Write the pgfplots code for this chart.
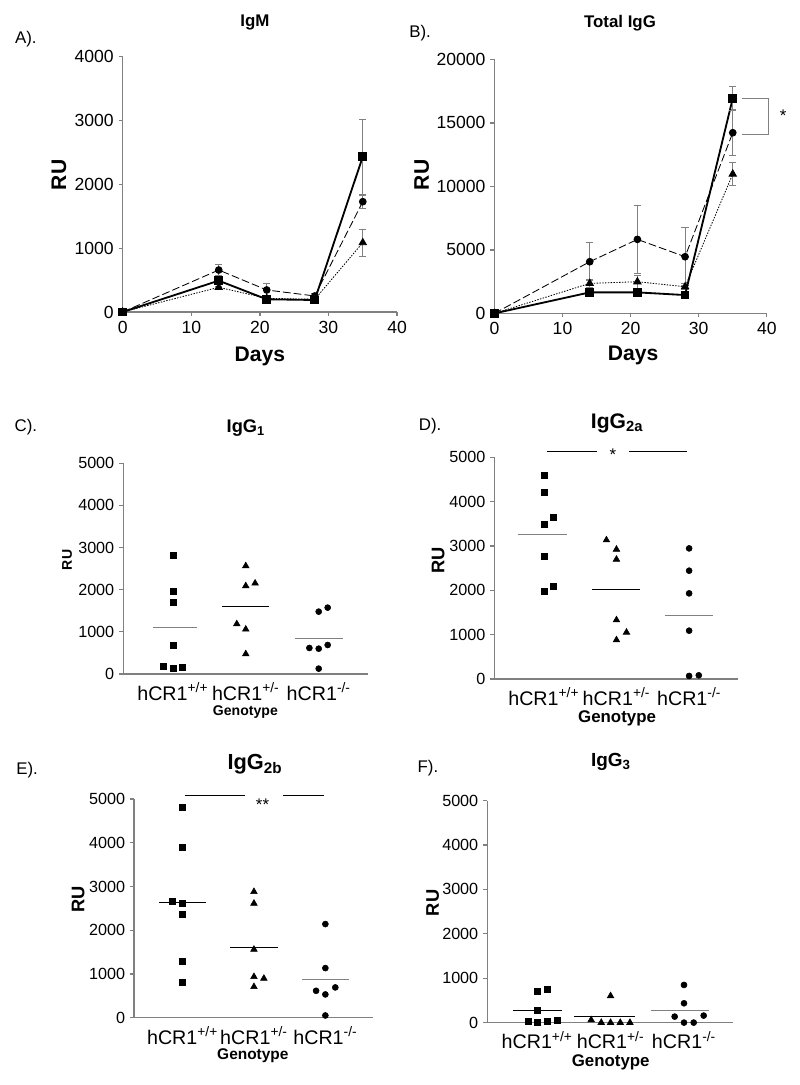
\documentclass[border=0pt]{standalone}
\usepackage{pgfplots}
\pgfplotsset{compat=1.18}
\usepackage{fontspec}
\setmainfont{Liberation Sans}
\newcommand\fs[1]{\fontsize{#1}{#1}\selectfont}
\pgfplotsset{
  panel/.style={
    scale only axis, axis lines*=left, clip=false, enlargelimits=false,
    axis line style={draw=gray, line width=0.9pt},
    tick style={draw=gray, line width=0.9pt},
    tick align=outside, major tick length=1mm,
    /pgf/number format/1000 sep={},
    /pgf/number format/assume math mode=true,
    scaled ticks=false,
  },
  cat/.style={panel, xmin=0.32, xmax=3.67, ymin=0, ymax=5000,
    xtick={1,2,3}, ytick={0,1000,2000,3000,4000,5000},
    xticklabels={hCR1\textsuperscript{+/+}, hCR1\textsuperscript{+/-}, hCR1\textsuperscript{-/-}},
    x tick style={draw=none},
    every y tick label/.append style={font=\fs{11.5}},
    every x tick label/.append style={font=\fs{14}},
    xlabel={Genotype}, ylabel={RU}},
  sq/.style={black, line width=1.3pt, mark=square*, mark size=0.85mm, mark options={solid}},
  ci/.style={black, line width=0.6pt, dash pattern=on 5.5pt off 2.2pt, mark=*, mark size=0.85mm, mark options={solid}},
  tr/.style={black, line width=0.6pt, dash pattern=on 1pt off 1pt, mark=triangle*, mark size=1.05mm, mark options={solid}},
  eb/.style={error bars/.cd, y dir=both, y explicit,
    error bar style={gray, line width=0.6pt, solid},
    error mark options={rotate=90, gray, mark size=0.9mm, line width=0.6pt, solid}},
  dsq/.style={only marks, mark=square*, mark size=0.75mm, black},
  dci/.style={only marks, mark=*, mark size=0.75mm, black},
  dtr/.style={only marks, mark=triangle*, mark size=0.95mm, black},
  mean/.style={no marks, line width=0.7pt, #1},
}
\begin{document}
\begin{tikzpicture}
\useasboundingbox (0,0) rectangle (200mm,271.25mm);

% ---------- A: IgM
\begin{axis}[panel, at={(30.67mm,193.25mm)}, anchor=south west,
  width=68.6mm, height=63.8mm, xmin=0, xmax=40, ymin=0, ymax=4000,
  xtick={0,10,20,30,40}, ytick={0,1000,2000,3000,4000},
  every tick label/.append style={font=\fs{12.5}},
  xlabel={Days}, ylabel={RU},
  xlabel style={at={(axis description cs:0.5,-0.176)}, anchor=center, font=\bfseries\fs{15}},
  ylabel style={at={(axis description cs:-0.232,0.537)}, anchor=center, font=\bfseries\fs{15}}]
\addplot[tr, eb] coordinates {(0,0) +- (0,0) (14,387) +- (0,40) (21,214) +- (0,30) (28,199) +- (0,30) (35,1087) +- (0,215)};
\addplot[ci, eb] coordinates {(0,0) +- (0,0) (14,658) +- (0,95) (21,345) +- (0,104) (28,251) +- (0,40) (35,1729) +- (0,105)};
\addplot[sq, eb] coordinates {(0,0) +- (0,0) (14,491) +- (0,90) (21,199) +- (0,30) (28,188) +- (0,30) (35,2435) +- (0,590)};
\node at (axis description cs:0.482,1.136) {\bfseries\fs{12}IgM};
\node at (axis description cs:-0.353,1.069) {\fs{12}A).};
\end{axis}

% ---------- B: Total IgG
\begin{axis}[panel, at={(123.6mm,192.9mm)}, anchor=south west,
  width=68.1mm, height=63.5mm, xmin=0, xmax=40, ymin=0, ymax=20000,
  xtick={0,10,20,30,40}, ytick={0,5000,10000,15000,20000},
  every tick label/.append style={font=\fs{12.5}},
  xlabel={Days}, ylabel={RU},
  xlabel style={at={(axis description cs:0.509,-0.164)}, anchor=center, font=\bfseries\fs{15}},
  ylabel style={at={(axis description cs:-0.267,0.545)}, anchor=center, font=\bfseries\fs{15}}]
\addplot[tr, eb] coordinates {(0,0) +- (0,0) (14,2362) +- (0,340) (21,2493) +- (0,500) (28,2100) +- (0,250) (35,10971) +- (0,920)};
\addplot[ci, eb] coordinates {(0,0) +- (0,0) (14,4068) +- (0,1496) (21,5827) +- (0,2703) (28,4462) +- (0,2283) (35,14226) +- (0,1800)};
\addplot[sq, eb] coordinates {(0,0) +- (0,0) (14,1654) +- (0,200) (21,1654) +- (0,200) (28,1444) +- (0,150) (35,16929) +- (0,970)};
\draw[gray, line width=0.8pt] (axis cs:36.3,16900) -- (axis cs:40.2,16900) -- (axis cs:40.2,14100) -- (axis cs:36.3,14100);
\node at (axis cs:42.4,15550) {\fs{12}*};
\node at (axis description cs:0.461,1.143) {\bfseries\fs{12}Total IgG};
\node at (axis description cs:-0.273,1.104) {\fs{12}B).};
\end{axis}

% ---------- C: IgG1
\begin{axis}[cat, at={(30.8mm,102.75mm)}, anchor=south west, width=61.1mm, height=52.7mm,
  xlabel style={at={(axis description cs:0.5,-0.179)}, anchor=center, font=\bfseries\fs{10}},
  ylabel style={at={(axis description cs:-0.23,0.541)}, anchor=center, font=\bfseries\fs{10}}]
\addplot[dsq] coordinates {(1,2824) (1,1954) (1,1693) (1,688) (0.872,190) (1,127) (1.123,158)};
\addplot[dtr] coordinates {(2,2563) (2,2089) (2.128,2152) (1.877,1187) (2,1060) (2,475)};
\addplot[dci] coordinates {(3,1479) (3.123,1574) (2.872,617) (3,601) (3.123,688) (3,127)};
\addplot[mean=gray] coordinates {(0.735,1100) (1.338,1100)};
\addplot[mean=black] coordinates {(1.671,1606) (2.324,1606)};
\addplot[mean=gray] coordinates {(2.676,846) (3.338,846)};
\node at (axis description cs:0.502,1.168) {\bfseries\fs{13}IgG\textsubscript{1}};
\node at (axis description cs:-0.398,1.172) {\fs{12}C).};
\end{axis}

% ---------- D: IgG2a
\begin{axis}[cat, at={(123.6mm,101.5mm)}, anchor=south west, width=60.85mm, height=55.4mm,
  xlabel style={at={(axis description cs:0.504,-0.176)}, anchor=center, font=\bfseries\fs{12}},
  ylabel style={at={(axis description cs:-0.231,0.537)}, anchor=center, font=\bfseries\fs{13}}]
\addplot[dsq] coordinates {(1,4602) (1,4203) (1.13,3639) (1,3496) (1,2759) (1,1985) (1.13,2098)};
\addplot[dtr] coordinates {(1.862,3135) (2,2925) (2,2699) (2,1331) (2.138,1053) (2,880)};
\addplot[dci] coordinates {(3,2947) (3,2444) (3,1932) (3,1090) (3,68) (3.133,83)};
\addplot[mean=gray] coordinates {(0.647,3256) (1.326,3256)};
\addplot[mean=black] coordinates {(1.67,2015) (2.33,2015)};
\addplot[mean=gray] coordinates {(2.665,1436) (3.33,1436)};
\draw[black, line width=0.8pt] (axis cs:1.05,5128) -- (axis cs:1.73,5128);
\draw[black, line width=0.8pt] (axis cs:2.17,5128) -- (axis cs:2.97,5128);
\node at (axis cs:1.95,5060) {\fs{12}*};
\node at (axis description cs:0.504,1.155) {\bfseries\fs{15}IgG\textsubscript{2a}};
\node at (axis description cs:-0.264,1.141) {\fs{12}D).};
\end{axis}

% ---------- E: IgG2b
\begin{axis}[cat, at={(33.5mm,16.8mm)}, anchor=south west, width=59.8mm, height=54.7mm,
  xlabel style={at={(axis description cs:0.497,-0.171)}, anchor=center, font=\bfseries\fs{11}},
  ylabel style={at={(axis description cs:-0.233,0.541)}, anchor=center, font=\bfseries\fs{13}}]
\addplot[dsq] coordinates {(1,4809) (1,3887) (0.861,2668) (1,2614) (1,2370) (1,1296) (1,823)};
\addplot[dtr] coordinates {(2,2881) (2,2614) (2,1562) (2,938) (2.139,899) (2,709)};
\addplot[dci] coordinates {(3,2142) (3,1136) (2.87,617) (3,534) (3.139,694) (3,53)};
\addplot[mean=black] coordinates {(0.676,2637) (1.333,2637)};
\addplot[mean=black] coordinates {(1.667,1608) (2.333,1608)};
\addplot[mean=gray] coordinates {(2.667,877) (3.333,877)};
\draw[black, line width=0.8pt] (axis cs:1.03,5076) -- (axis cs:1.875,5076);
\draw[black, line width=0.8pt] (axis cs:2.40,5076) -- (axis cs:2.98,5076);
\node at (axis cs:2.12,4870) {\fs{12}**};
\node at (axis description cs:0.506,1.158) {\bfseries\fs{15.5}IgG\textsubscript{2b}};
\node at (axis description cs:-0.447,1.133) {\fs{12}E).};
\end{axis}

% ---------- F: IgG3
\begin{axis}[cat, at={(121.8mm,15.6mm)}, anchor=south west, width=61.5mm, height=55.5mm,
  xlabel style={at={(axis description cs:0.502,-0.177)}, anchor=center, font=\bfseries\fs{12}},
  ylabel style={at={(axis description cs:-0.222,0.539)}, anchor=center, font=\bfseries\fs{13}}]
\addplot[dsq] coordinates {(1,698) (1.136,751) (1,285) (0.873,38) (1,0) (1.136,23) (1.268,60)};
\addplot[dtr] coordinates {(2,601) (1.736,60) (1.873,0) (2,0) (2.132,0) (2.264,0)};
\addplot[dci] coordinates {(3,848) (3,435) (2.873,135) (3.268,158) (3,0) (3.132,0)};
\addplot[mean=black] coordinates {(0.677,263) (1.341,263)};
\addplot[mean=black] coordinates {(1.5,135) (2.336,135)};
\addplot[mean=gray] coordinates {(2.555,270) (3.341,270)};
\node at (axis description cs:0.503,1.174) {\bfseries\fs{13.5}IgG\textsubscript{3}};
\node at (axis description cs:-0.241,1.147) {\fs{12}F).};
\end{axis}
\end{tikzpicture}
\end{document}
